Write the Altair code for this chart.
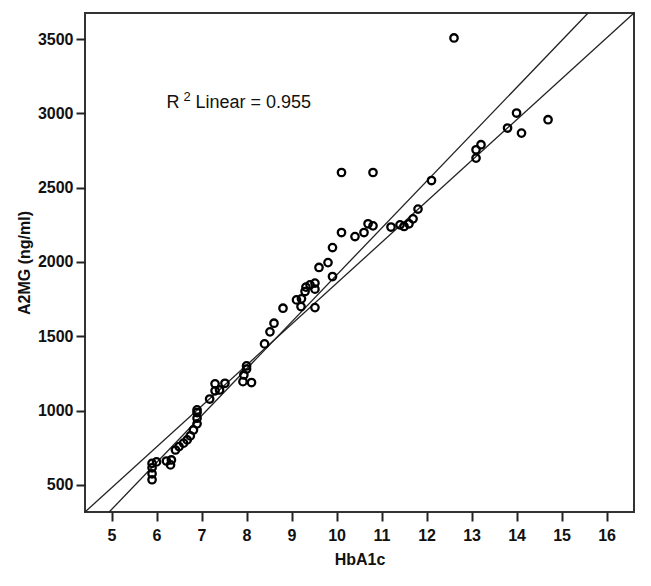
import altair as alt
import pandas as pd

# Scatter data
hba1c = [5.9, 5.9, 5.9, 5.9, 6.0, 6.22, 6.31, 6.33, 6.42, 6.5, 6.6, 6.68, 6.75, 6.82,
         6.9, 6.9, 6.9, 6.9,
         7.18, 7.3, 7.3, 7.4, 7.52, 7.92, 8.11, 7.94, 8.0, 8.0,
         8.4, 8.52, 8.61, 8.81, 9.11, 9.22, 9.21, 9.3, 9.32, 9.41, 9.52, 9.52, 9.52,
         9.61, 9.81, 9.91, 9.91, 10.11, 10.11, 10.41, 10.61, 10.7, 10.81, 10.81,
         11.21, 11.41, 11.5, 11.61, 11.7, 11.81, 12.11, 12.61,
         13.1, 13.1, 13.21, 13.8, 14.0, 14.11, 14.7]
a2mg = [535, 575, 615, 645, 655, 661, 635, 668, 735, 758, 781, 803, 830, 870,
        911, 949, 987, 1005,
        1078, 1133, 1180, 1139, 1184, 1195, 1189, 1240, 1301, 1280,
        1449, 1530, 1588, 1689, 1745, 1752, 1700, 1801, 1831, 1846, 1858, 1817, 1693,
        1963, 1996, 2097, 1902, 2198, 2602, 2171, 2198, 2257, 2243, 2602,
        2235, 2250, 2239, 2257, 2290, 2356, 2548, 3507,
        2699, 2755, 2789, 2901, 3002, 2867, 2957]

# Two straight lines (endpoints at the axis limits)
line_id = ["a", "a", "b", "b"]
line_x = [4.41, 16.61, 4.947, 15.59]
line_y = [318, 3675, 318, 3675]

# Axis settings
x_domain = [4.41, 16.61]
y_domain = [318, 3675]
x_ticks = [5, 6, 7, 8, 9, 10, 11, 12, 13, 14, 15, 16]
y_ticks = [500, 1000, 1500, 2000, 2500, 3000, 3500]

# Annotation
ann_x = [6.22]
ann_y = [3036]

pts = pd.DataFrame({"HbA1c": hba1c, "A2MG": a2mg})
lines = pd.DataFrame({"id": line_id, "HbA1c": line_x, "A2MG": line_y})
ann = pd.DataFrame({"HbA1c": ann_x, "A2MG": ann_y})

FONT = "Liberation Sans"

xscale = alt.Scale(domain=x_domain, nice=False, zero=False)
yscale = alt.Scale(domain=y_domain, nice=False, zero=False)

xaxis = alt.Axis(values=x_ticks, title="HbA1c", grid=False, domain=False,
                 tickSize=9, tickWidth=2, tickColor="#222", labelPadding=6,
                 labelFont=FONT, labelFontSize=16, labelFontWeight="bold", labelColor="#111",
                 titleFont=FONT, titleFontSize=16, titleFontWeight="bold", titleColor="#111",
                 titlePadding=8)
yaxis = alt.Axis(values=y_ticks, title="A2MG (ng/ml)", grid=False, domain=False, format="d",
                 tickSize=9, tickWidth=2, tickColor="#222", labelPadding=3,
                 labelFont=FONT, labelFontSize=16, labelFontWeight="bold", labelColor="#111",
                 titleFont=FONT, titleFontSize=16, titleFontWeight="bold", titleColor="#111",
                 titlePadding=5)

points = alt.Chart(pts).mark_point(shape="circle", filled=False, size=55,
                                   strokeWidth=2.3, color="black", opacity=1).encode(
    x=alt.X("HbA1c:Q", scale=xscale, axis=xaxis),
    y=alt.Y("A2MG:Q", scale=yscale, axis=yaxis),
)

fit = alt.Chart(lines).mark_line(color="#222", strokeWidth=1.3).encode(
    x=alt.X("HbA1c:Q", scale=xscale),
    y=alt.Y("A2MG:Q", scale=yscale),
    detail="id:N",
)

base_ann = alt.Chart(ann).encode(
    x=alt.X("HbA1c:Q", scale=xscale),
    y=alt.Y("A2MG:Q", scale=yscale),
)
t_r = base_ann.mark_text(text="R", align="left", baseline="alphabetic",
                         font=FONT, fontSize=18, color="#111")
t_2 = base_ann.mark_text(text="2", align="left", baseline="alphabetic", dx=17, dy=-7,
                         font=FONT, fontSize=13, color="#111")
t_rest = base_ann.mark_text(text="Linear = 0.955", align="left", baseline="alphabetic", dx=29,
                            font=FONT, fontSize=18, color="#111")

chart = alt.layer(fit, points, t_r, t_2, t_rest).properties(
    width=549, height=499,
    autosize=alt.AutoSizeParams(type="none"),
    padding={"left": 77, "top": 5, "right": 9, "bottom": 66},
    background="white",
).configure_view(stroke="#333", strokeWidth=2)

chart.save("out.html", embed_options={"renderer": "svg", "actions": False})
